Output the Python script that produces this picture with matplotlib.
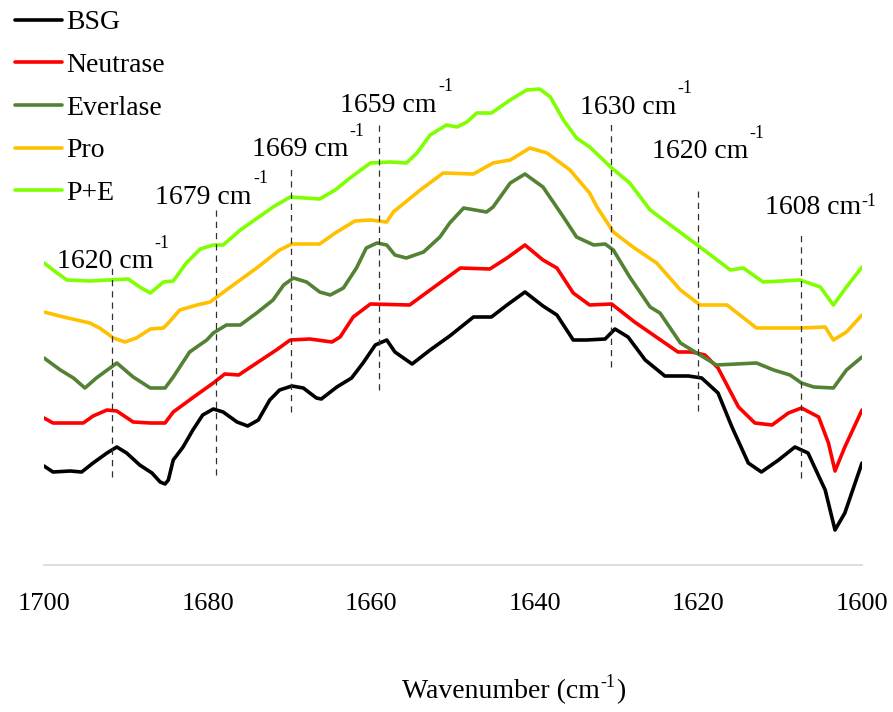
import numpy as np
import matplotlib
matplotlib.use('Agg')
import matplotlib.pyplot as plt

plt.rcParams['font.family'] = 'Liberation Serif'

# FTIR amide I region, spectra offset vertically (arbitrary absorbance units)
bsg_wn = [1700.0, 1698.9, 1696.8, 1695.4, 1694.0, 1692.3, 1691.1, 1689.9, 1688.3, 1686.8,
          1685.8, 1685.2, 1684.8, 1684.2, 1683.0, 1681.8, 1680.6, 1679.3, 1678.1, 1676.4,
          1675.1, 1673.8, 1672.4, 1671.2, 1669.7, 1668.3, 1666.7, 1666.1, 1664.2, 1662.4,
          1661.0, 1659.5, 1658.1, 1657.1, 1655.0, 1652.8, 1650.4, 1647.5, 1645.3, 1643.4,
          1641.2, 1639.0, 1637.3, 1635.3, 1633.7, 1631.4, 1630.2, 1628.6, 1626.5, 1624.1,
          1621.2, 1619.6, 1617.6, 1615.9, 1613.9, 1612.3, 1610.2, 1608.2, 1606.6, 1604.5,
          1603.3, 1602.1, 1600.0]
bsg_abs = [0.99, 0.93, 0.94, 0.93, 1.02, 1.12, 1.18, 1.12, 1.00, 0.92,
           0.83, 0.81, 0.85, 1.05, 1.18, 1.35, 1.50, 1.56, 1.53, 1.43,
           1.39, 1.45, 1.65, 1.75, 1.79, 1.77, 1.67, 1.66, 1.78, 1.87,
           2.02, 2.20, 2.25, 2.13, 2.01, 2.15, 2.29, 2.48, 2.48, 2.60,
           2.73, 2.59, 2.50, 2.25, 2.25, 2.26, 2.36, 2.28, 2.05, 1.89,
           1.89, 1.87, 1.72, 1.38, 1.02, 0.93, 1.05, 1.18, 1.12, 0.75,
           0.35, 0.52, 1.02]

neutrase_wn = [1700.0, 1698.9, 1695.2, 1694.0, 1692.3, 1691.1, 1689.1, 1687.0, 1685.2, 1684.2,
               1681.7, 1679.3, 1677.9, 1676.2, 1674.0, 1671.6, 1669.9, 1667.5, 1664.8, 1663.8,
               1662.2, 1660.1, 1655.3, 1652.8, 1649.1, 1645.5, 1643.4, 1641.2, 1639.0, 1637.3,
               1635.3, 1633.3, 1630.6, 1627.8, 1622.5, 1620.8, 1619.2, 1617.6, 1615.1, 1613.1,
               1611.0, 1609.0, 1607.4, 1605.3, 1604.1, 1603.3, 1602.1, 1600.0]
neutrase_abs = [1.47, 1.42, 1.42, 1.49, 1.55, 1.54, 1.43, 1.42, 1.42, 1.53,
                1.68, 1.82, 1.91, 1.90, 2.02, 2.15, 2.25, 2.26, 2.23, 2.28,
                2.48, 2.61, 2.60, 2.75, 2.97, 2.96, 3.07, 3.20, 3.05, 2.97,
                2.72, 2.60, 2.61, 2.43, 2.13, 2.13, 2.10, 1.97, 1.58, 1.42,
                1.40, 1.52, 1.57, 1.48, 1.22, 0.94, 1.18, 1.55]

everlase_wn = [1700.0, 1698.0, 1696.4, 1695.0, 1693.6, 1691.1, 1689.1, 1687.0, 1685.2, 1684.2,
               1682.2, 1680.1, 1679.3, 1677.7, 1676.0, 1674.0, 1672.0, 1670.7, 1669.5, 1667.9,
               1666.3, 1665.0, 1663.4, 1661.8, 1660.6, 1659.3, 1658.1, 1657.1, 1655.7, 1653.6,
               1651.6, 1650.4, 1648.7, 1645.9, 1645.1, 1643.0, 1641.2, 1639.0, 1636.5, 1634.9,
               1632.8, 1631.4, 1630.4, 1628.4, 1625.9, 1624.7, 1622.2, 1620.2, 1617.8, 1612.9,
               1610.8, 1608.8, 1607.4, 1605.9, 1603.5, 1601.9, 1600.0]
everlase_abs = [2.07, 1.95, 1.87, 1.77, 1.87, 2.02, 1.88, 1.77, 1.77, 1.88,
                2.13, 2.25, 2.32, 2.40, 2.40, 2.52, 2.65, 2.80, 2.87, 2.83,
                2.73, 2.70, 2.77, 2.97, 3.17, 3.22, 3.20, 3.10, 3.07, 3.13,
                3.28, 3.42, 3.57, 3.53, 3.58, 3.82, 3.91, 3.78, 3.48, 3.28,
                3.20, 3.21, 3.15, 2.88, 2.58, 2.52, 2.22, 2.12, 2.00, 2.02,
                1.95, 1.90, 1.82, 1.78, 1.77, 1.95, 2.08]

pro_wn = [1700.0, 1697.6, 1696.0, 1694.4, 1693.2, 1691.5, 1690.1, 1688.7, 1687.0, 1685.4,
          1684.8, 1683.4, 1681.3, 1679.7, 1677.7, 1674.0, 1671.2, 1669.7, 1666.3, 1664.4,
          1662.0, 1660.1, 1658.1, 1657.3, 1654.0, 1651.2, 1647.5, 1645.1, 1643.0, 1640.6,
          1638.5, 1635.7, 1633.3, 1632.4, 1630.4, 1628.0, 1625.1, 1622.2, 1619.8, 1616.5,
          1612.9, 1607.6, 1604.5, 1603.5, 1601.9, 1600.0]
pro_abs = [2.53, 2.48, 2.45, 2.42, 2.37, 2.27, 2.23, 2.27, 2.36, 2.37,
           2.42, 2.55, 2.60, 2.63, 2.75, 2.97, 3.15, 3.21, 3.21, 3.32,
           3.44, 3.45, 3.43, 3.53, 3.75, 3.92, 3.91, 4.02, 4.05, 4.17,
           4.12, 3.95, 3.72, 3.58, 3.33, 3.18, 3.02, 2.75, 2.60, 2.60,
           2.37, 2.37, 2.38, 2.25, 2.33, 2.50]

pe_wn = [1700.0, 1698.4, 1697.2, 1694.4, 1689.7, 1688.3, 1687.0, 1685.4, 1684.2, 1682.6,
         1680.9, 1679.3, 1678.1, 1676.0, 1672.0, 1669.9, 1666.3, 1664.4, 1662.6, 1660.1,
         1657.7, 1655.7, 1654.4, 1652.8, 1650.8, 1649.5, 1648.3, 1647.1, 1645.3, 1643.0,
         1641.0, 1639.4, 1638.1, 1636.5, 1634.9, 1633.3, 1632.0, 1630.6, 1628.4, 1625.9,
         1623.1, 1619.8, 1616.1, 1614.5, 1612.1, 1607.6, 1605.1, 1603.5, 1601.9, 1600.0]
pe_abs = [3.02, 2.92, 2.85, 2.84, 2.86, 2.78, 2.72, 2.83, 2.84, 3.02,
          3.16, 3.20, 3.20, 3.35, 3.58, 3.68, 3.66, 3.75, 3.87, 4.02,
          4.03, 4.02, 4.12, 4.30, 4.40, 4.38, 4.43, 4.52, 4.52, 4.65,
          4.75, 4.76, 4.68, 4.45, 4.27, 4.18, 4.08, 3.97, 3.82, 3.55,
          3.38, 3.18, 2.95, 2.97, 2.83, 2.85, 2.78, 2.60, 2.78, 2.98]

labels = ['BSG', 'Neutrase', 'Everlase', 'Pro', 'P+E']
colors = ['black', '#FF0000', '#548235', '#FFC000', '#80FF00']
series = [(bsg_wn, bsg_abs), (neutrase_wn, neutrase_abs), (everlase_wn, everlase_abs),
          (pro_wn, pro_abs), (pe_wn, pe_abs)]

# marked bands: line position, label text, line top/bottom
band_pos = [1691.7, 1679.0, 1669.8, 1659.0, 1630.7, 1620.0, 1607.5]
band_text = ['1620', '1679', '1669', '1659', '1630', '1620', '1608']
band_top = [2.98, 3.57, 3.97, 4.42, 4.43, 3.75, 3.31]
band_bottom = [0.88, 0.90, 1.53, 1.75, 1.98, 1.54, 0.87]
# label anchor (left edge, vertical centre)
lab_x = [1698.4, 1686.4, 1674.6, 1663.8, 1634.5, 1625.7, 1611.9]
lab_y = [3.03, 3.68, 4.15, 4.60, 4.58, 4.13, 3.58]
sup_dy = [12, 12, 12, 12, 12, 12, 3]
sup_dx = [1, 1, 1, 1, 1, 1, 0]

xticks = [1700, 1680, 1660, 1640, 1620, 1600]

fig = plt.figure(figsize=(8.93, 7.12), dpi=100)
ax = fig.add_axes([44 / 893, 147 / 712, 818 / 893, 565 / 712])

for (wn, ab), lab, c in zip(series, labels, colors):
    ax.plot(wn, ab, color=c, lw=2.6, label=lab, solid_joinstyle='round', solid_capstyle='round')

ax.vlines(band_pos, band_bottom, band_top, colors='#303030', lw=0.9, linestyles=(0, (5, 4)))

for x, y, txt, dx, dy in zip(lab_x, lab_y, band_text, sup_dx, sup_dy):
    t = ax.text(x, y, txt + ' cm', fontsize=20, ha='left', va='center')
    ax.annotate('-1', xy=(1, 1), xycoords=t, xytext=(dx, dy - 14), textcoords='offset points',
                fontsize=13, ha='left', va='bottom')

ax.set_xlim(1700, 1600)
ax.set_ylim(0, 5.65)
ax.set_xticks(xticks)
ax.set_xticklabels([str(v) for v in xticks])
ax.tick_params(axis='x', length=0, pad=20, labelsize=19)
ax.set_yticks([])
for s in ['top', 'left', 'right']:
    ax.spines[s].set_visible(False)
ax.spines['bottom'].set_color('#D9D9D9')
ax.spines['bottom'].set_linewidth(1.2)
ax.patch.set_alpha(0)

fig.legend(loc='upper left', bbox_to_anchor=(15 / 893, 1 - 10 / 712), frameon=False,
           fontsize=20, handlelength=1.7, handletextpad=0.15, labelspacing=0.62,
           borderpad=0, borderaxespad=0)

# axis title with a small raised "-1"
xl1 = fig.text(402 / 893, 1 - 692 / 712, 'Wavenumber (cm', fontsize=20, ha='left', va='center')
sup = fig.add_artist(plt.Annotation('-1', xy=(1, 0.55), xycoords=xl1, xytext=(0.5, 0),
                                    textcoords='offset points', fontsize=13, ha='left', va='bottom'))
fig.add_artist(plt.Annotation(')', xy=(1, 0), xycoords=(sup, xl1), xytext=(0.5, 0),
                              textcoords='offset points', fontsize=20, ha='left', va='bottom'))

fig.savefig('out.png', dpi=100)
